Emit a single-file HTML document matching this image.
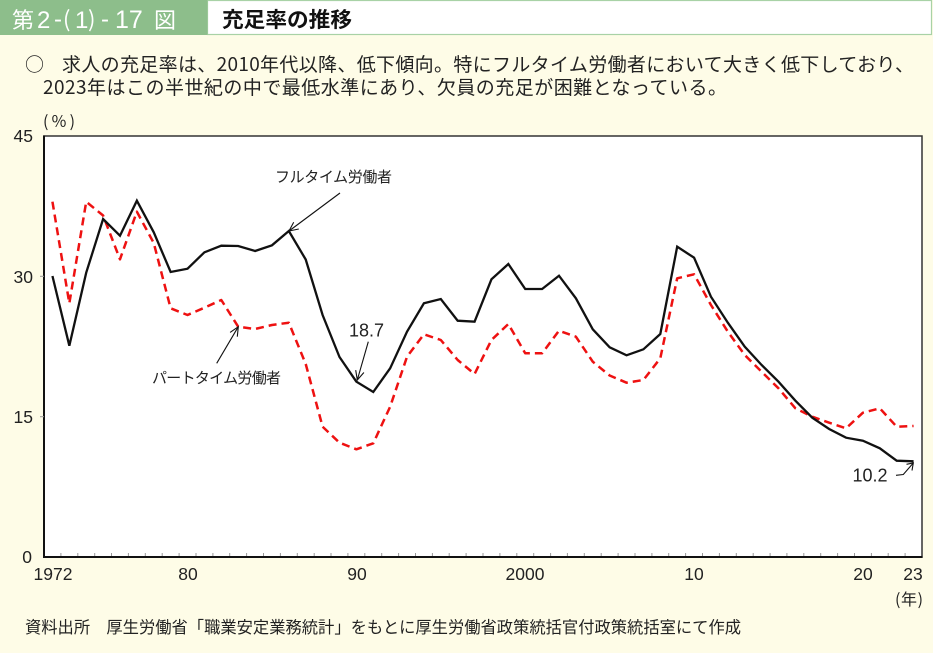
<!DOCTYPE html>
<html>
<head>
<meta charset="utf-8">
<style>
html,body{margin:0;padding:0;background:#fefce7;}
svg{display:block;}
text{font-family:"Liberation Sans","Noto Sans CJK JP",sans-serif;}
.jp{font-family:"Noto Sans CJK JP","Liberation Sans",sans-serif;}
</style>
</head>
<body>
<svg width="933" height="653" viewBox="0 0 933 653" xmlns="http://www.w3.org/2000/svg">
<rect x="0" y="0" width="933" height="653" fill="#fefce7"/>
<!-- title bar -->
<rect x="207.5" y="0.5" width="724" height="34" fill="#ffffff" stroke="#a8d2a6" stroke-width="1.2"/>
<rect x="0" y="0" width="207.5" height="35" fill="#8dbe8b"/>
<g fill="#ffffff" font-size="24">
<text x="12" y="28" class="jp" font-size="22">第</text>
<text x="37" y="28">2</text>
<text x="54" y="27">-</text>
<text x="63" y="27" class="jp" font-size="22">(</text>
<text x="75" y="28">1</text>
<text x="88" y="27" class="jp" font-size="22">)</text>
<text x="101" y="27">-</text>
<text x="115" y="28" font-size="25">17</text>
<text x="154" y="28" class="jp" font-size="22">図</text>
</g>
<text x="222" y="27" font-size="21" font-weight="bold" fill="#111" class="jp" textLength="130" lengthAdjust="spacingAndGlyphs">充足率の推移</text>

<!-- description -->
<text x="25" y="71" font-size="19" fill="#222" class="jp">○</text>
<text x="62" y="71" font-size="19" fill="#222" class="jp" textLength="852" lengthAdjust="spacing">求人の充足率は、2010年代以降、低下傾向。特にフルタイム労働者において大きく低下しており、</text>
<text x="43" y="94" font-size="19" fill="#222" class="jp" textLength="684" lengthAdjust="spacing">2023年はこの半世紀の中で最低水準にあり、欠員の充足が困難となっている。</text>

<!-- (%) -->
<text x="43" y="127" font-size="16" fill="#222" class="jp" textLength="32" lengthAdjust="spacing">(%)</text>

<!-- plot area -->
<rect x="44" y="136" width="878" height="421" fill="#ffffff" stroke="#333" stroke-width="1.5"/>
<line x1="44" y1="135.5" x2="44" y2="558" stroke="#111" stroke-width="2"/>
<line x1="43" y1="557" x2="922.5" y2="557" stroke="#111" stroke-width="2"/>

<!-- y ticks -->
<g stroke="#999" stroke-width="1">
<line x1="40" y1="276.3" x2="44" y2="276.3"/>
<line x1="40" y1="416.7" x2="44" y2="416.7"/>
</g>

<!-- y labels -->
<g font-size="17.5" fill="#222" text-anchor="end">
<text x="33" y="142">45</text>
<text x="33" y="283">30</text>
<text x="33" y="423">15</text>
<text x="32" y="563">0</text>
</g>
<!-- x labels -->
<g font-size="17.5" fill="#222" text-anchor="middle">
<text x="53" y="580">1972</text>
<text x="188" y="580">80</text>
<text x="357" y="580">90</text>
<text x="525" y="580">2000</text>
<text x="694" y="580">10</text>
<text x="863" y="580">20</text>
<text x="913" y="580">23</text>
</g>
<text x="895" y="605" font-size="16" fill="#222" class="jp" textLength="28" lengthAdjust="spacing">(年)</text>

<!-- series -->
<polyline fill="none" stroke="#ee1111" stroke-width="2.5" stroke-dasharray="8 5" stroke-linejoin="round"
points="52.44,201.7 69.33,303.3 86.21,201.7 103.10,215.5 119.98,259.3 136.87,211.7 153.75,243 170.64,308.3 187.52,315 204.41,307.7 221.29,300 238.18,326.7 255.06,329 271.95,325 288.83,322.7 305.72,364 322.60,426.7 339.49,442.7 356.37,449.3 373.26,443.3 390.14,406.7 407.03,356.7 423.91,334.3 440.80,340 457.68,360 474.57,374 491.45,340 508.34,324 525.22,353.3 542.11,353.3 558.99,330.7 575.88,336.7 592.76,361.7 609.65,375.5 626.53,382.7 643.42,380 660.30,358.3 677.19,278.3 694.07,274.3 710.96,305 727.84,331.7 744.73,355 761.61,371.7 778.50,388.3 795.38,408.3 812.27,416.7 829.15,422.7 846.04,428.3 862.92,412.7 879.81,408.3 896.69,426.7 913.58,426"/>
<polyline fill="none" stroke="#111" stroke-width="2.3" stroke-linejoin="miter"
points="52.44,276 69.33,345.7 86.21,272.7 103.10,219 119.98,235.7 136.87,200.7 153.75,232.3 170.64,272 187.52,268.7 204.41,252.3 221.29,245.7 238.18,246 255.06,251 271.95,245.3 288.83,231 305.72,259.5 322.60,315 339.49,357 356.37,381.7 373.26,392 390.14,368.3 407.03,331.7 423.91,303.3 440.80,299 457.68,320.7 474.57,321.7 491.45,279.3 508.34,264 525.22,289 542.11,289 558.99,275.7 575.88,298.3 592.76,329.3 609.65,347.3 626.53,355.3 643.42,349.3 660.30,334 677.19,246.7 694.07,257.7 710.96,296.7 727.84,322.7 744.73,346.7 761.61,365 778.50,381.7 795.38,400.7 812.27,417.7 829.15,429 846.04,437.7 862.92,440.7 879.81,448.3 896.69,460.7 913.58,461.3"/>

<!-- annotations -->
<g stroke="#111" stroke-width="1.1" fill="none">
<line x1="340" y1="193" x2="289" y2="231"/>
<polyline points="298.8,229 289,231 293.7,222.2"/>
<line x1="216.7" y1="363.3" x2="238.3" y2="326.7"/>
<polyline points="230.1,332.4 238.3,326.7 237.3,336.7"/>
<line x1="368.3" y1="341.7" x2="357.3" y2="380"/>
<polyline points="363.9,372.5 357.3,380 355.7,370.1"/>
<polyline points="896,475.3 903.3,474.5 913.3,463"/>
<polyline points="906.5,464.3 913.3,463 912,470.5"/>
</g>
<text x="275" y="182" font-size="15" fill="#222" class="jp" textLength="117" lengthAdjust="spacing">フルタイム労働者</text>
<text x="152" y="383" font-size="15" fill="#222" class="jp" textLength="129" lengthAdjust="spacing">パートタイム労働者</text>
<text x="349" y="336.5" font-size="18" fill="#222">18.7</text>
<text x="852.5" y="481.5" font-size="18" fill="#222">10.2</text>

<!-- source -->
<text x="25" y="633" font-size="16.5" fill="#222" class="jp" textLength="716" lengthAdjust="spacingAndGlyphs">資料出所　厚生労働省「職業安定業務統計」をもとに厚生労働省政策統括官付政策統括室にて作成</text>

<!-- x minor ticks -->
<g stroke="#999" stroke-width="1">
<line x1="60.9" y1="556" x2="60.9" y2="553"/><line x1="77.8" y1="556" x2="77.8" y2="553"/><line x1="94.7" y1="556" x2="94.7" y2="553"/><line x1="111.5" y1="556" x2="111.5" y2="553"/><line x1="128.4" y1="556" x2="128.4" y2="553"/><line x1="145.3" y1="556" x2="145.3" y2="553"/><line x1="162.2" y1="556" x2="162.2" y2="553"/><line x1="179.1" y1="556" x2="179.1" y2="553"/><line x1="196.0" y1="556" x2="196.0" y2="553"/><line x1="212.9" y1="556" x2="212.9" y2="553"/><line x1="229.7" y1="556" x2="229.7" y2="553"/><line x1="246.6" y1="556" x2="246.6" y2="553"/><line x1="263.5" y1="556" x2="263.5" y2="553"/><line x1="280.4" y1="556" x2="280.4" y2="553"/><line x1="297.3" y1="556" x2="297.3" y2="553"/><line x1="314.2" y1="556" x2="314.2" y2="553"/><line x1="331.0" y1="556" x2="331.0" y2="553"/><line x1="347.9" y1="556" x2="347.9" y2="553"/><line x1="364.8" y1="556" x2="364.8" y2="553"/><line x1="381.7" y1="556" x2="381.7" y2="553"/><line x1="398.6" y1="556" x2="398.6" y2="553"/><line x1="415.5" y1="556" x2="415.5" y2="553"/><line x1="432.4" y1="556" x2="432.4" y2="553"/><line x1="449.2" y1="556" x2="449.2" y2="553"/><line x1="466.1" y1="556" x2="466.1" y2="553"/><line x1="483.0" y1="556" x2="483.0" y2="553"/><line x1="499.9" y1="556" x2="499.9" y2="553"/><line x1="516.8" y1="556" x2="516.8" y2="553"/><line x1="533.7" y1="556" x2="533.7" y2="553"/><line x1="550.6" y1="556" x2="550.6" y2="553"/><line x1="567.4" y1="556" x2="567.4" y2="553"/><line x1="584.3" y1="556" x2="584.3" y2="553"/><line x1="601.2" y1="556" x2="601.2" y2="553"/><line x1="618.1" y1="556" x2="618.1" y2="553"/><line x1="635.0" y1="556" x2="635.0" y2="553"/><line x1="651.9" y1="556" x2="651.9" y2="553"/><line x1="668.7" y1="556" x2="668.7" y2="553"/><line x1="685.6" y1="556" x2="685.6" y2="553"/><line x1="702.5" y1="556" x2="702.5" y2="553"/><line x1="719.4" y1="556" x2="719.4" y2="553"/><line x1="736.3" y1="556" x2="736.3" y2="553"/><line x1="753.2" y1="556" x2="753.2" y2="553"/><line x1="770.1" y1="556" x2="770.1" y2="553"/><line x1="786.9" y1="556" x2="786.9" y2="553"/><line x1="803.8" y1="556" x2="803.8" y2="553"/><line x1="820.7" y1="556" x2="820.7" y2="553"/><line x1="837.6" y1="556" x2="837.6" y2="553"/><line x1="854.5" y1="556" x2="854.5" y2="553"/><line x1="871.4" y1="556" x2="871.4" y2="553"/><line x1="888.2" y1="556" x2="888.2" y2="553"/><line x1="905.1" y1="556" x2="905.1" y2="553"/>
</g>
</svg>
</body>
</html>
